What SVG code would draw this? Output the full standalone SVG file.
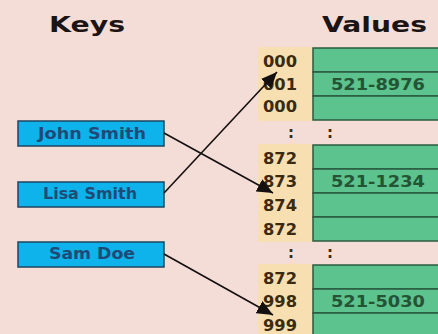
<svg xmlns="http://www.w3.org/2000/svg" width="438" height="334" viewBox="0 0 438 334">
<style>
.title{font-family:"DejaVu Sans",sans-serif;font-weight:bold;font-size:21px;fill:#1c1414}
.idx{font-family:"DejaVu Sans",sans-serif;font-weight:bold;font-size:15px;fill:#3a2a10}
.val{font-family:"DejaVu Sans",sans-serif;font-weight:bold;font-size:15px;fill:#245434}
.key{font-family:"DejaVu Sans",sans-serif;font-weight:bold;font-size:15px;fill:#1f4a78;text-anchor:middle}
.keybox{fill:#0db3ea;stroke:#1d4560;stroke-width:1.5}
.cell{fill:#5cc28e;stroke:#2a5a40;stroke-width:1.5}
.col{fill:#f7dfb2}
.conn{stroke:#141010;stroke-width:1.6;fill:none}
</style>
<defs>
<marker id="ah" markerUnits="userSpaceOnUse" markerWidth="18" markerHeight="14" refX="16" refY="7" orient="auto">
<path d="M0,0 L16,7 L0,14 Z" fill="#141010"/>
</marker>
</defs>
<rect width="438" height="334" fill="#f5ddd7"/>
<g id="titles">
<text class="title" x="49" y="32" textLength="76" lengthAdjust="spacingAndGlyphs">Keys</text>
<text class="title" x="322" y="32" textLength="105" lengthAdjust="spacingAndGlyphs">Values</text>
</g>
<g id="index-columns">
<rect class="col" x="258" y="47" width="55" height="74"/>
<rect class="col" x="258" y="144" width="55" height="98"/>
<rect class="col" x="258" y="264" width="55" height="72"/>
</g>
<g id="bucket-block-1">
<rect class="cell" x="313" y="48" width="130" height="24"/>
<rect class="cell" x="313" y="72" width="130" height="24"/>
<rect class="cell" x="313" y="96" width="130" height="24"/>
<text class="idx" x="263" y="67" textLength="34" lengthAdjust="spacingAndGlyphs">000</text>
<text class="idx" x="263" y="90" textLength="34" lengthAdjust="spacingAndGlyphs">001</text>
<text class="idx" x="263" y="112" textLength="34" lengthAdjust="spacingAndGlyphs">000</text>
<text class="val" x="331" y="90" textLength="94" lengthAdjust="spacingAndGlyphs">521-8976</text>
</g>
<g id="gap-1">
<text class="idx" x="288" y="138">:</text>
<text class="idx" x="327" y="138">:</text>
</g>
<g id="bucket-block-2">
<rect class="cell" x="313" y="145" width="130" height="24"/>
<rect class="cell" x="313" y="169" width="130" height="24"/>
<rect class="cell" x="313" y="193" width="130" height="24"/>
<rect class="cell" x="313" y="217" width="130" height="24"/>
<text class="idx" x="263" y="164" textLength="34" lengthAdjust="spacingAndGlyphs">872</text>
<text class="idx" x="263" y="187" textLength="34" lengthAdjust="spacingAndGlyphs">873</text>
<text class="idx" x="263" y="211" textLength="34" lengthAdjust="spacingAndGlyphs">874</text>
<text class="idx" x="263" y="235" textLength="34" lengthAdjust="spacingAndGlyphs">872</text>
<text class="val" x="331" y="187" textLength="94" lengthAdjust="spacingAndGlyphs">521-1234</text>
</g>
<g id="gap-2">
<text class="idx" x="288" y="258">:</text>
<text class="idx" x="327" y="258">:</text>
</g>
<g id="bucket-block-3">
<rect class="cell" x="313" y="265" width="130" height="24"/>
<rect class="cell" x="313" y="289" width="130" height="24"/>
<rect class="cell" x="313" y="313" width="130" height="24"/>
<text class="idx" x="263" y="284" textLength="34" lengthAdjust="spacingAndGlyphs">872</text>
<text class="idx" x="263" y="307" textLength="34" lengthAdjust="spacingAndGlyphs">998</text>
<text class="idx" x="263" y="331" textLength="34" lengthAdjust="spacingAndGlyphs">999</text>
<text class="val" x="331" y="307" textLength="94" lengthAdjust="spacingAndGlyphs">521-5030</text>
</g>
<g id="key-john">
<rect class="keybox" x="18" y="121" width="146" height="25"/>
<text class="key" x="92" y="139" textLength="108" lengthAdjust="spacingAndGlyphs">John Smith</text>
</g>
<g id="key-lisa">
<rect class="keybox" x="18" y="182" width="146" height="25"/>
<text class="key" x="90" y="199" textLength="94" lengthAdjust="spacingAndGlyphs">Lisa Smith</text>
</g>
<g id="key-sam">
<rect class="keybox" x="18" y="242" width="146" height="25"/>
<text class="key" x="92" y="259" textLength="86" lengthAdjust="spacingAndGlyphs">Sam Doe</text>
</g>
<g id="connectors">
<line class="conn" x1="164" y1="133" x2="273" y2="193" marker-end="url(#ah)"/>
<line class="conn" x1="164" y1="193" x2="277" y2="72" marker-end="url(#ah)"/>
<line class="conn" x1="164" y1="254" x2="273" y2="315" marker-end="url(#ah)"/>
</g>
</svg>
